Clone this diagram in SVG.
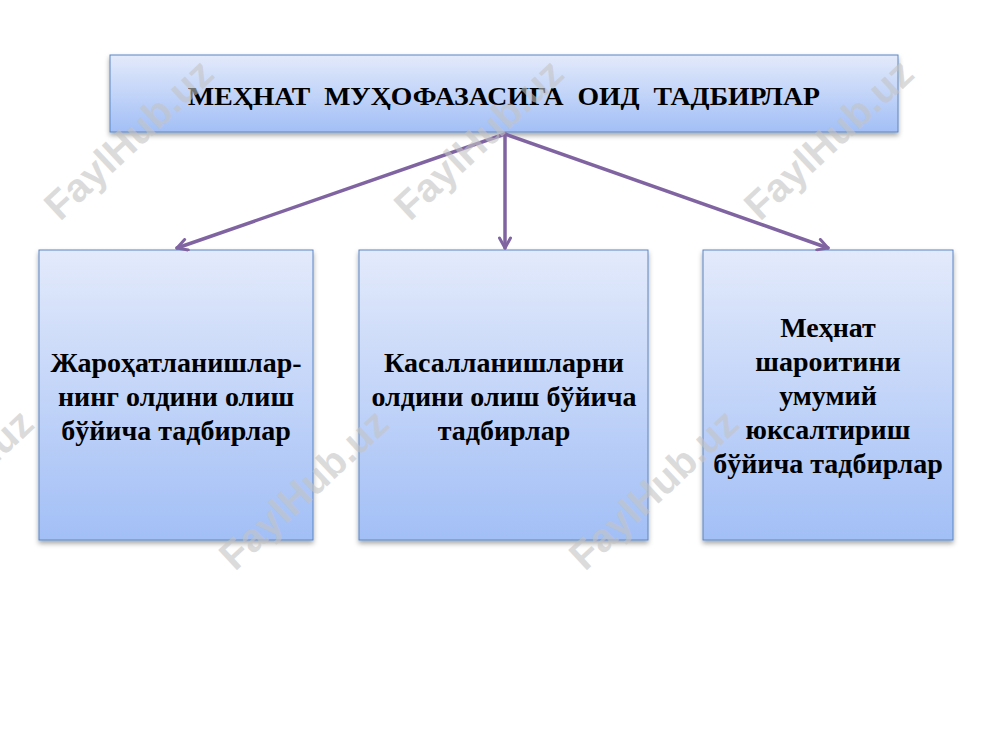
<svg xmlns="http://www.w3.org/2000/svg" width="1000" height="750" viewBox="0 0 1000 750">
<defs>
<linearGradient id="g" x1="0" y1="0" x2="0" y2="1">
<stop offset="0" stop-color="#e3eafb"/>
<stop offset="1" stop-color="#a2bff6"/>
</linearGradient>
<filter id="sh" x="-10%" y="-10%" width="120%" height="130%">
<feDropShadow dx="0" dy="3" stdDeviation="2.5" flood-color="#000" flood-opacity="0.35"/>
</filter>
<marker id="ah" viewBox="0 0 14 14" refX="12" refY="7" markerWidth="14" markerHeight="14" markerUnits="userSpaceOnUse" orient="auto">
<path d="M2,1.5 L12,7 L2,12.5" fill="none" stroke="#8064a2" stroke-width="3" stroke-linecap="round" stroke-linejoin="round"/>
</marker>
</defs>
<style>
.box{fill:url(#g);stroke:#5b86c5;stroke-width:1;filter:url(#sh)}
.t{font-family:"Liberation Serif","Times New Roman",serif;font-weight:bold;fill:#000;text-anchor:middle}
.b{font-size:28px}
.c{stroke:#8064a2;stroke-width:3.5;fill:none;stroke-linecap:round}
.wm{font-family:"Liberation Sans",Arial,sans-serif;font-weight:bold;font-size:40px;fill:#c4c4c4;fill-opacity:0.6}
</style>
<rect width="1000" height="750" fill="#fff"/>

<g id="top">
<rect class="box" x="110" y="55" width="788" height="77"/>
<text class="t" x="504" y="105" font-size="25" textLength="632" lengthAdjust="spacingAndGlyphs" xml:space="preserve">МЕҲНАТ  МУҲОФАЗАСИГА  ОИД  ТАДБИРЛАР</text>
</g>

<g id="left">
<rect class="box" x="39" y="250" width="274" height="290"/>
<text class="t b" x="176" y="372">Жароҳатланишлар-</text>
<text class="t b" x="176" y="406">нинг олдини олиш</text>
<text class="t b" x="176" y="440">бўйича тадбирлар</text>
</g>

<g id="middle">
<rect class="box" x="359" y="250" width="289" height="290"/>
<text class="t b" x="504" y="372">Касалланишларни</text>
<text class="t b" x="504" y="406">олдини олиш бўйича</text>
<text class="t b" x="504" y="440">тадбирлар</text>
</g>

<g id="right">
<rect class="box" x="703" y="250" width="250" height="290"/>
<text class="t b" x="828" y="337">Меҳнат</text>
<text class="t b" x="828" y="371">шароитини</text>
<text class="t b" x="828" y="405">умумий</text>
<text class="t b" x="828" y="439">юксалтириш</text>
<text class="t b" x="828" y="473">бўйича тадбирлар</text>
</g>

<g id="connectors">
<line class="c" x1="505" y1="134" x2="177" y2="248" marker-end="url(#ah)"/>
<line class="c" x1="505" y1="134" x2="505" y2="248" marker-end="url(#ah)"/>
<line class="c" x1="505" y1="134" x2="828" y2="248" marker-end="url(#ah)"/>
</g>

<g id="watermarks">
<text class="wm" transform="translate(60,222) rotate(-43)">FaylHub.uz</text>
<text class="wm" transform="translate(410,222) rotate(-43)">FaylHub.uz</text>
<text class="wm" transform="translate(760,222) rotate(-43)">FaylHub.uz</text>
<text class="wm" transform="translate(-120,572) rotate(-43)">FaylHub.uz</text>
<text class="wm" transform="translate(235,572) rotate(-43)">FaylHub.uz</text>
<text class="wm" transform="translate(585,572) rotate(-43)">FaylHub.uz</text>
</g>
</svg>
